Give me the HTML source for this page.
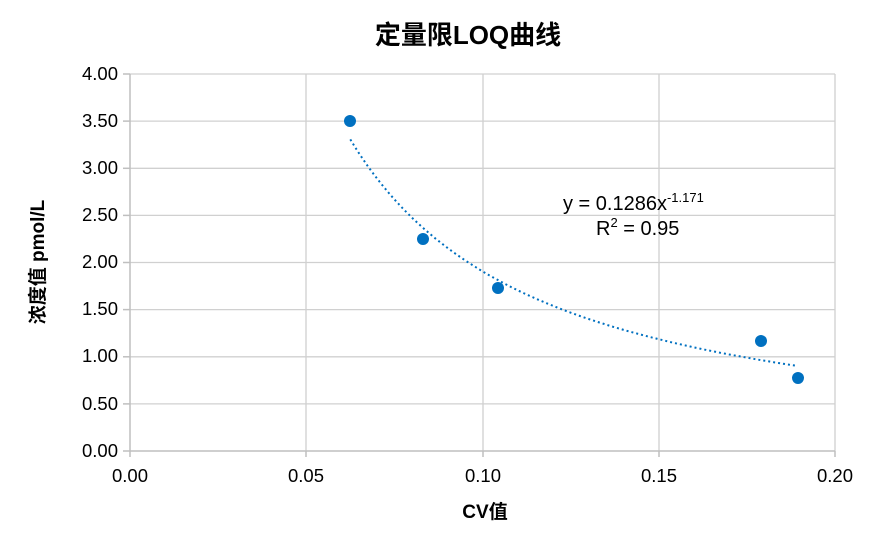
<!DOCTYPE html>
<html><head><meta charset="utf-8"><style>
body{margin:0;background:#fff}
svg text{font-family:"Liberation Sans","Noto Sans CJK SC",sans-serif;fill:#000}
</style></head><body>
<svg width="885" height="535" viewBox="0 0 885 535">
<g stroke="#d0d0d0" stroke-width="1.3" fill="none">
<line x1="130" y1="74" x2="835" y2="74"/><line x1="130" y1="121.1" x2="835" y2="121.1"/>
<line x1="130" y1="168.3" x2="835" y2="168.3"/><line x1="130" y1="215.4" x2="835" y2="215.4"/>
<line x1="130" y1="262.5" x2="835" y2="262.5"/><line x1="130" y1="309.6" x2="835" y2="309.6"/>
<line x1="130" y1="356.8" x2="835" y2="356.8"/><line x1="130" y1="403.9" x2="835" y2="403.9"/>
<line x1="306" y1="74" x2="306" y2="451"/><line x1="483" y1="74" x2="483" y2="451"/>
<line x1="659" y1="74" x2="659" y2="451"/><line x1="835" y1="74" x2="835" y2="451"/>
</g>
<g stroke="#bfbfbf" stroke-width="1.5">
<line x1="130" y1="74" x2="130" y2="457"/><line x1="123" y1="451" x2="835" y2="451"/>
<line x1="123" y1="74" x2="130" y2="74"/><line x1="123" y1="121.1" x2="130" y2="121.1"/>
<line x1="123" y1="168.3" x2="130" y2="168.3"/><line x1="123" y1="215.4" x2="130" y2="215.4"/>
<line x1="123" y1="262.5" x2="130" y2="262.5"/><line x1="123" y1="309.6" x2="130" y2="309.6"/>
<line x1="123" y1="356.8" x2="130" y2="356.8"/><line x1="123" y1="403.9" x2="130" y2="403.9"/>
<line x1="306" y1="451" x2="306" y2="457"/><line x1="483" y1="451" x2="483" y2="457"/>
<line x1="659" y1="451" x2="659" y2="457"/><line x1="835" y1="451" x2="835" y2="457"/>
</g>
<g font-size="18.5" text-anchor="end">
<text x="118" y="80">4.00</text><text x="118" y="127">3.50</text><text x="118" y="174">3.00</text>
<text x="118" y="221">2.50</text><text x="118" y="268">2.00</text><text x="118" y="315">1.50</text>
<text x="118" y="362">1.00</text><text x="118" y="410">0.50</text><text x="118" y="457">0.00</text>
</g>
<g font-size="18.5" text-anchor="middle">
<text x="130" y="482">0.00</text><text x="306" y="482">0.05</text><text x="483" y="482">0.10</text>
<text x="659" y="482">0.15</text><text x="835" y="482">0.20</text>
</g>
<text x="468" y="44" font-size="26" font-weight="bold" text-anchor="middle">定量限LOQ曲线</text>
<text x="485" y="518" font-size="19" font-weight="bold" text-anchor="middle">CV值</text>
<text transform="translate(44,262) rotate(-90)" font-size="19" font-weight="bold" text-anchor="middle">浓度值 pmol/L</text>
<path id="tr" fill="none" stroke="#0070c0" stroke-width="2" stroke-dasharray="2,3"/>
<g fill="#0070c0">
<circle cx="350" cy="121" r="6"/><circle cx="423" cy="239" r="6"/><circle cx="498" cy="288" r="6"/>
<circle cx="761" cy="341" r="6"/><circle cx="798" cy="378" r="6"/>
</g>
<text x="563" y="210" font-size="20">y = 0.1286x<tspan font-size="13" dy="-8">-1.171</tspan></text>
<text x="596" y="235" font-size="20">R<tspan font-size="13" dy="-8">2</tspan><tspan dy="8"> = 0.95</tspan></text>
<script>
var d="";for(var i=0;i<=100;i++){var x=0.0625+(0.189-0.0625)*i/100;var y=0.1286*Math.pow(x,-1.171);
d+=(i?"L":"M")+(130+x*3525).toFixed(1)+","+(451-y*94.25).toFixed(1);}
document.getElementById("tr").setAttribute("d",d);
</script>
</svg>
</body></html>
